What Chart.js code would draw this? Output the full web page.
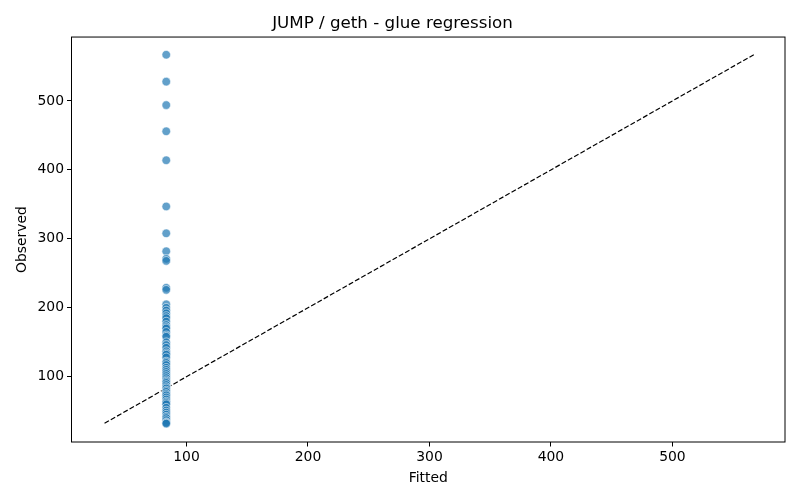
<!DOCTYPE html>
<html>
<head>
<meta charset="utf-8">
<script src="https://cdn.jsdelivr.net/npm/chart.js@4.4.1/dist/chart.umd.min.js"></script>
<style>
  html, body { margin: 0; padding: 0; background: #fff; }
  #wrap { width: 800px; height: 500px; position: relative; }
</style>
</head>
<body>
<div id="wrap"><canvas id="regChart"></canvas></div>
<script>
// Valores (fitted constante, observed variable)
const fittedValue = 83.3;
const observed = [567, 528, 494, 456, 414, 347, 308, 282, 271, 268, 229, 226,
    205, 200, 196, 192, 188, 185, 180, 175, 172, 170, 165, 160, 158, 150, 146,
    142, 137, 134, 132, 128, 122, 120, 117, 113, 110, 107, 104, 101, 98, 95,
    93, 91, 88, 85, 83, 80, 78, 75, 73, 70, 67, 64, 62, 60, 55, 51, 48, 45,
    42, 40, 37, 34, 33, 32];
const diagonal = [32.5, 567];
const tickValues = [100, 200, 300, 400, 500];
const axisMin = 5.3;
const axisMax = 592.7;

const points = observed.map(v => ({ x: fittedValue, y: v }));
const diagPoints = diagonal.map(v => ({ x: v, y: v }));

// Marco completo alrededor del área del gráfico
const framePlugin = {
    id: 'frame',
    afterDraw(chart) {
        const a = chart.chartArea;
        const ctx = chart.ctx;
        ctx.save();
        ctx.strokeStyle = '#000';
        ctx.lineWidth = 1;
        ctx.strokeRect(a.left, a.top, a.right - a.left, a.bottom - a.top);
        ctx.restore();
    }
};

const fontBase = { family: 'DejaVu Sans', size: 13.9 };

function axisOpts(title) {
    return {
        type: 'linear',
        min: axisMin,
        max: axisMax,
        afterBuildTicks: s => { s.ticks = tickValues.map(v => ({ value: v })); },
        grid: { drawOnChartArea: false, drawTicks: true, tickLength: 4.5, tickColor: '#000', color: '#000' },
        border: { display: false },
        ticks: { color: '#000', font: fontBase, padding: 3 },
        title: { display: true, text: title, color: '#000', font: fontBase }
    };
}

const xOpts = axisOpts('Fitted');
xOpts.afterFit = s => { s.height = 58; };
xOpts.title.padding = { top: 4, bottom: 13 };
xOpts.ticks.maxRotation = 0;
const yOpts = axisOpts('Observed');
yOpts.afterFit = s => { s.width = 71.5; };
yOpts.title.padding = { top: 14, bottom: 8 };

new Chart(document.getElementById('regChart').getContext('2d'), {
    type: 'scatter',
    data: {
        datasets: [{
            label: 'points',
            data: points,
            backgroundColor: 'rgba(31,119,180,0.7)',
            borderColor: 'rgba(255,255,255,0.7)',
            borderWidth: 0.8,
            pointRadius: 4.3,
            pointHoverRadius: 4.3
        }, {
            label: 'diag',
            type: 'line',
            data: diagPoints,
            borderColor: '#000',
            borderWidth: 1.2,
            borderDash: [5, 2.2],
            pointRadius: 0,
            fill: false
        }]
    },
    options: {
        responsive: true,
        maintainAspectRatio: false,
        animation: false,
        layout: { padding: { left: 0, right: 15, top: 0, bottom: 0 } },
        scales: { x: xOpts, y: yOpts },
        plugins: {
            legend: { display: false },
            tooltip: { enabled: false },
            title: {
                display: true,
                text: 'JUMP / geth - glue regression',
                color: '#000',
                font: { family: 'DejaVu Sans', size: 16.7, weight: 'normal' },
                padding: { top: 14, bottom: 3 }
            }
        }
    },
    plugins: [framePlugin]
});
</script>
</body>
</html>
